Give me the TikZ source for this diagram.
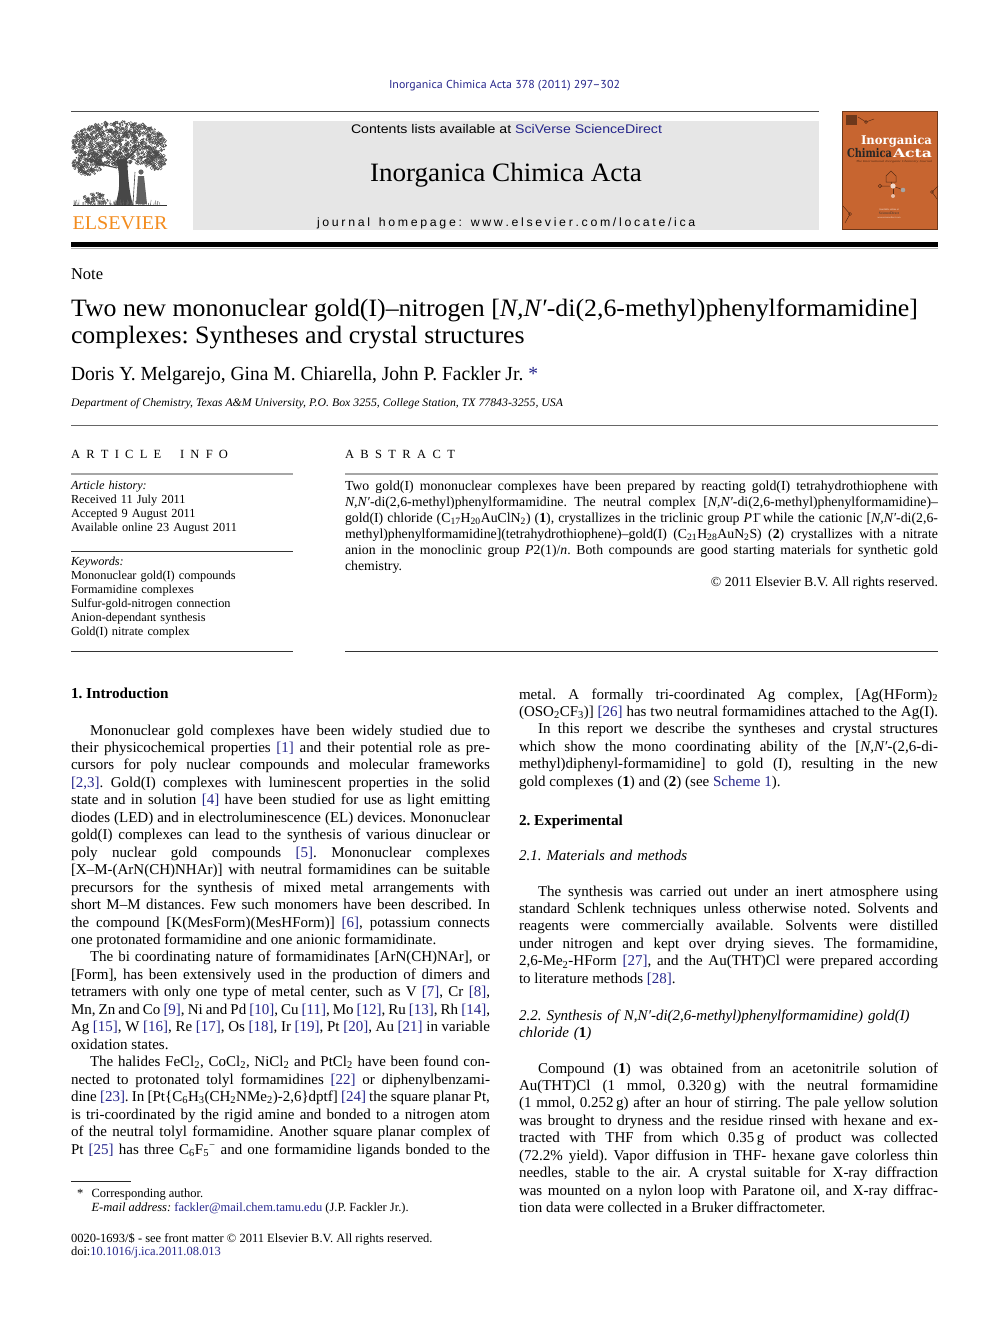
\documentclass[tikz,border=0pt]{standalone}
\usepackage{fontspec}
\setmainfont{Liberation Serif}
\newfontfamily\hsans{Liberation Sans}
\newfontfamily\psans{PT Sans}
\newfontfamily\slab{DejaVu Serif}
\usepackage{graphicx}
\definecolor{linkblue}{RGB}{38,38,140}
\definecolor{elsorange}{RGB}{243,140,30}
\definecolor{coverbg}{RGB}{199,101,48}
\definecolor{boxgray}{RGB}{230,230,230}
\newcommand\lk[1]{\textcolor{linkblue}{#1}}
\newcommand\NN{\textit{N,N′}}
\newcommand\sub[1]{\textsubscript{#1}}
\newcommand\nl{\linebreak[4]}
\makeatletter
\newcommand\spreadtext[2]{\def\sp@k{\kern#1}\@tfor\sp@c:=#2\do{\sp@c\sp@k}}
\makeatother
\newlength\tlen
\newcommand\titleone{Two new mononuclear gold(I)–nitrogen [\NN-di(2,6-methyl)phenylformamidine]}
\hyphenpenalty=10000\relax
\exhyphenpenalty=10000\relax
\tolerance=10000\relax
\frenchspacing
\begin{document}
\settowidth{\tlen}{\fontsize{25}{28}\selectfont\titleone}%
\pgfmathsetmacro\tscale{847/\tlen}%
\begin{tikzpicture}[x=1pt,y=-1pt,
  txt/.style={anchor=base west, inner sep=0pt, outer sep=0pt},
  txtr/.style={anchor=base east, inner sep=0pt, outer sep=0pt},
  body/.style={txt, text width=419pt, align=justify,
     font=\fontsize{15}{17.46}\selectfont\frenchspacing},
  info/.style={txt, text width=222pt, align=left, font=\fontsize{12.3}{14}\selectfont},
  abs/.style={txt, text width=593pt, align=justify,
     font=\fontsize{13.8}{16}\selectfont\frenchspacing},
  foot/.style={txt, font=\fontsize{12.5}{14}\selectfont},
  head/.style={txt, font=\fontsize{15.2}{17}\selectfont\bfseries},
  subhead/.style={txt, text width=419pt, align=left, font=\fontsize{15}{17.46}\selectfont\itshape},
  rulelight/.style={draw=black!35, line width=1.4pt},
  ruledark/.style={draw=black!80, line width=0.8pt},
  treeline/.style={draw=black!70, line width=0.38pt},
  molline/.style={draw=coverbg!45!black, line width=0.5pt},
]
\useasboundingbox (0,0) rectangle (992,1323);
\fill[white] (0,0) rectangle (992,1323);

% ---------------- header ----------------
\node[txt] (jref) at (389,88) {\resizebox{231pt}{\height}{\psans\fontsize{11.5}{12}\selectfont\color{linkblue}Inorganica Chimica Acta 378 (2011) 297–302}};
\draw[draw=black!70, line width=0.9pt] (71,111) -- (819,111);
\fill[boxgray] (193,121) rectangle (819,230);
\node[txt] (contents) at (351,133) {\resizebox{311pt}{\height}{\hsans\fontsize{12.5}{14}\selectfont Contents lists available at \lk{SciVerse ScienceDirect}}};
\node[txt] (jname) at (370,181) {\resizebox{272pt}{\height}{\fontsize{26.5}{28}\selectfont Inorganica Chimica Acta}};
\node[txt] (homepage) at (317,226) {\resizebox{381pt}{\height}{\hsans\fontsize{12}{14}\selectfont\spreadtext{2.6pt}{journal~homepage:~www.elsevier.com/locate/ica}}};

% Elsevier tree logo
\pgfmathsetseed{12345}
\foreach \i in {1,...,950}{
  \pgfmathsetmacro\ang{360*rnd}
  \pgfmathsetmacro\rr{sqrt(rnd)}
  \pgfmathsetmacro\px{119+47*\rr*cos(\ang)}
  \pgfmathsetmacro\py{144+23*\rr*sin(\ang)}
  \pgfmathsetmacro\cr{0.5+1.3*rnd}
  \draw[treeline] (\px,\py) circle[radius=\cr];
}
\foreach \i in {1,...,170}{
  \pgfmathsetmacro\ang{360*rnd}
  \pgfmathsetmacro\rr{sqrt(rnd)}
  \pgfmathsetmacro\px{88+15*\rr*cos(\ang)}
  \pgfmathsetmacro\py{164+11*\rr*sin(\ang)}
  \pgfmathsetmacro\cr{0.5+1.2*rnd}
  \draw[treeline] (\px,\py) circle[radius=\cr];
}
\foreach \i in {1,...,90}{
  \pgfmathsetmacro\ang{360*rnd}
  \pgfmathsetmacro\rr{sqrt(rnd)}
  \pgfmathsetmacro\px{155+11*\rr*cos(\ang)}
  \pgfmathsetmacro\py{161+9*\rr*sin(\ang)}
  \pgfmathsetmacro\cr{0.5+1.2*rnd}
  \draw[treeline] (\px,\py) circle[radius=\cr];
}
\foreach \i in {1,...,70}{
  \pgfmathsetmacro\ang{360*rnd}
  \pgfmathsetmacro\rr{sqrt(rnd)}
  \pgfmathsetmacro\px{96+13*\rr*cos(\ang)}
  \pgfmathsetmacro\py{199+6*\rr*sin(\ang)}
  \pgfmathsetmacro\cr{0.4+1*rnd}
  \draw[treeline] (\px,\py) circle[radius=\cr];
}
\fill[black!72] (115,205) .. controls (120,192) and (121,176) .. (116,160) -- (127,158) .. controls (128,176) and (129,192) .. (133,205) -- cycle;
\draw[black!72, line width=1.4pt] (118,164) -- (104,150);
\draw[black!72, line width=1.4pt] (124,162) -- (138,148);
\draw[black!72, line width=1.1pt] (117,168) -- (96,163);
\fill[black!62] (136,204) -- (138,176) -- (144,176) -- (147,204) -- cycle;
\fill[black!62] (141,172) circle[radius=2.6];
\draw[black!70, line width=0.6pt] (133,204) -- (135,172);
\foreach \i in {1,...,70}{
  \pgfmathsetmacro\gx{74+90*rnd}
  \pgfmathsetmacro\gh{1.5+4*rnd}
  \pgfmathsetmacro\gd{2*rnd-1}
  \draw[black!60, line width=0.4pt] (\gx,205) -- ++(\gd,-\gh);
}
\draw[black!80, line width=1.3pt] (73,205.5) -- (167,205.5);
\node[txt] (elsevier) at (72.5,229) {\resizebox{95pt}{\height}{\fontsize{19.5}{20}\selectfont\color{elsorange}ELSEVIER}};

% Journal cover
\fill[coverbg] (842,111) rectangle (938,230);
\draw[coverbg!55!black, line width=0.8pt] (842.4,111.4) rectangle (937.6,229.6);
\fill[coverbg!55!black] (846,115) rectangle (857,125);
\node[txt] (cov1) at (861,144) {\resizebox{71pt}{\height}{\slab\bfseries\fontsize{12}{12}\selectfont\color{white}Inorganica}};
\node[txt] (cov2) at (847,157) {\resizebox{45pt}{\height}{\slab\bfseries\fontsize{12}{12}\selectfont\color{black!85}Chimica}};
\node[txt] (cov3) at (893,157) {\resizebox{39pt}{\height}{\slab\bfseries\fontsize{12}{12}\selectfont\color{white}Acta}};
\node[txt] (cov4) at (856,162) {\resizebox{76pt}{\height}{\fontsize{3}{3}\selectfont\itshape\color{coverbg!40!black}The International Inorganic Chemistry Journal}};
\draw[molline] (886,182) -- (886,176) -- (891,171) -- (896,176) -- (896,182) -- cycle;
\draw[molline] (891,182) -- (893,186) -- (880,186);
\draw[molline] (893,186) -- (903,190);
\draw[molline] (893,186) -- (893,196);
\fill[white!75!coverbg] (893,186) circle[radius=2.6];
\fill[gray!70] (903,190) circle[radius=2.3];
\fill[white!60!coverbg] (893,196) circle[radius=2];
\draw[molline] (880,186) circle[radius=1.8];
\draw[molline] (858,117) -- (866,122) -- (874,119);
\draw[molline] (866,122) circle[radius=1.5];
\draw[molline] (938,186) -- (932,192) -- (937,199);
\draw[molline] (932,192) circle[radius=1.6];
\draw[molline] (843,206) -- (850,214) -- (845,223);
\draw[molline] (850,214) circle[radius=1.6];
\node[anchor=base, inner sep=0pt] (cov5) at (889,210) {\fontsize{2.6}{3}\selectfont\color{white!85!coverbg}Available online at};
\node[anchor=base, inner sep=0pt] (cov6) at (889,214.5) {\fontsize{3.6}{4}\selectfont\color{black!80}ScienceDirect};
\node[anchor=base, inner sep=0pt] (cov7) at (889,218) {\fontsize{2.4}{3}\selectfont\color{white!85!coverbg}www.sciencedirect.com};

\fill[black] (71,242) rectangle (938,247);
\draw[black!30, line width=0.8pt] (71,248) -- (938,248);

% ---------------- title block ----------------
\node[txt] (note) at (71,279) {\fontsize{16.5}{18}\selectfont Note};
\node[txt] (title1) at (71,316) {\scalebox{\tscale}[1]{\fontsize{25}{28}\selectfont\titleone}};
\node[txt] (title2) at (71,343) {\scalebox{\tscale}[1]{\fontsize{25}{28}\selectfont complexes: Syntheses and crystal structures}};
\node[txt] (authors) at (71,380.5) {\resizebox{467pt}{\height}{\fontsize{20}{22}\selectfont Doris Y. Melgarejo, Gina M. Chiarella, John P. Fackler Jr. \lk{*}}};
\node[txt] (affil) at (71,406.5) {\resizebox{492pt}{\height}{\fontsize{11.5}{13}\selectfont\itshape Department of Chemistry, Texas A\&M University, P.O. Box 3255, College Station, TX 77843-3255, USA}};
\draw[ruledark, draw=black!60] (71,425) -- (938,425);

% ---------------- article info ----------------
\node[txt] (ainfo) at (71,458) {\fontsize{12.5}{14}\selectfont\hbox to 157pt{A\hfill R\hfill T\hfill I\hfill C\hfill L\hfill E\hfill\hfill\hfill I\hfill N\hfill F\hfill O}};
\draw[rulelight] (71,474) -- (293,474);
\node[info] (history) at (71,489.5) {\textit{Article history:}\\Received 11 July 2011\\Accepted 9 August 2011\\Available online 23 August 2011};
\draw[ruledark] (71,551) -- (293,551);
\node[info] (keywords) at (71,565.5) {\textit{Keywords:}\\Mononuclear gold(I) compounds\\Formamidine complexes\\Sulfur-gold-nitrogen connection\\Anion-dependant synthesis\\Gold(I) nitrate complex};
\draw[ruledark] (71,651) -- (293,651);

% ---------------- abstract ----------------
\node[txt] (abshead) at (345,458) {\fontsize{12.5}{14}\selectfont\hbox to 110pt{A\hfill B\hfill S\hfill T\hfill R\hfill A\hfill C\hfill T}};
\draw[rulelight] (345,474) -- (938,474);
\node[abs] (abstract) at (345,490) {Two gold(I) mononuclear complexes have been prepared by reacting gold(I) tetrahydrothiophene with\nl
\NN-di(2,6-methyl)phenylformamidine. The neutral complex [\NN-di(2,6-methyl)phenylformamidine)–\nl
gold(I) chloride (C\sub{17}H\sub{20}AuClN\sub{2}) (\textbf{1}), crystallizes in the triclinic group \textit{P}\={1} while the cationic [\NN-di(2,6-\nl
methyl)phenylformamidine](tetrahydrothiophene)–gold(I) (C\sub{21}H\sub{28}AuN\sub{2}S) (\textbf{2}) crystallizes with a nitrate\nl
anion in the monoclinic group \textit{P}2(1)/\textit{n}. Both compounds are good starting materials for synthetic gold\nl
chemistry.};
\node[txtr] (copyr) at (938,586) {\fontsize{13.8}{16}\selectfont © 2011 Elsevier B.V. All rights reserved.};
\draw[ruledark] (345,651) -- (938,651);

% ---------------- left column ----------------
\node[head] (intro) at (71,698.5) {1. Introduction};
\node[body] (leftcol) at (71,735) {\hspace*{19pt}Mononuclear gold complexes have been widely studied due to\nl
their physicochemical properties \lk{[1]} and their potential role as pre-\nl
cursors for poly nuclear compounds and molecular frameworks\nl
\lk{[2,3]}. Gold(I) complexes with luminescent properties in the solid\nl
state and in solution \lk{[4]} have been studied for use as light emitting\nl
diodes (LED) and in electroluminescence (EL) devices. Mononuclear\nl
gold(I) complexes can lead to the synthesis of various dinuclear or\nl
poly nuclear gold compounds \lk{[5]}. Mononuclear complexes\nl
[X–M-(ArN(CH)NHAr)] with neutral formamidines can be suitable\nl
precursors for the synthesis of mixed metal arrangements with\nl
short M–M distances. Few such monomers have been described. In\nl
the compound [K(MesForm)(MesHForm)] \lk{[6]}, potassium connects\nl
one protonated formamidine and one anionic formamidinate.\par
\hspace*{19pt}The bi coordinating nature of formamidinates [ArN(CH)NAr], or\nl
[Form], has been extensively used in the production of dimers and\nl
tetramers with only one type of metal center, such as V \lk{[7]}, Cr \lk{[8]},\nl
Mn, Zn and Co \lk{[9]}, Ni and Pd \lk{[10]}, Cu \lk{[11]}, Mo \lk{[12]}, Ru \lk{[13]}, Rh \lk{[14]},\nl
Ag \lk{[15]}, W \lk{[16]}, Re \lk{[17]}, Os \lk{[18]}, Ir \lk{[19]}, Pt \lk{[20]}, Au \lk{[21]} in variable\nl
oxidation states.\par
\hspace*{19pt}The halides FeCl\sub{2}, CoCl\sub{2}, NiCl\sub{2} and PtCl\sub{2} have been found con-\nl
nected to protonated tolyl formamidines \lk{[22]} or diphenylbenzami-\nl
dine \lk{[23]}. In [Pt\{C\sub{6}H\sub{3}(CH\sub{2}NMe\sub{2})-2,6\}dptf] \lk{[24]} the square planar Pt,\nl
is tri-coordinated by the rigid amine and bonded to a nitrogen atom\nl
of the neutral tolyl formamidine. Another square planar complex of\nl
Pt \lk{[25]} has three C\sub{6}F\sub{5}\textsuperscript{−} and one formamidine ligands bonded to the{\parfillskip=0pt\par}};

% footnotes
\draw[black!85, line width=0.6pt] (71,1181.5) -- (131,1181.5);
\node[foot] (star) at (77,1197) {*};
\node[foot] (corr) at (91.5,1197) {Corresponding author.};
\node[foot] (email) at (91.5,1211.5) {\textit{E-mail address:} \lk{fackler@mail.chem.tamu.edu} (J.P. Fackler Jr.).};
\node[foot] (front) at (71,1242) {0020-1693/\$ - see front matter © 2011 Elsevier B.V. All rights reserved.};
\node[foot] (doi) at (71,1255.5) {doi:\lk{10.1016/j.ica.2011.08.013}};

% ---------------- right column ----------------
\node[body] (rightcol) at (519,699) {metal. A formally tri-coordinated Ag complex, [Ag(HForm)\sub{2}\nl
(OSO\sub{2}CF\sub{3})] \lk{[26]} has two neutral formamidines attached to the Ag(I).{\parfillskip=0pt\par}
\hspace*{19pt}In this report we describe the syntheses and crystal structures\nl
which show the mono coordinating ability of the [\NN-(2,6-di-\nl
methyl)diphenyl-formamidine] to gold (I), resulting in the new\nl
gold complexes (\textbf{1}) and (\textbf{2}) (see \lk{Scheme 1}).};
\node[head] (exper) at (519,825.5) {2. Experimental};
\node[subhead] (sub21) at (519,860) {2.1. Materials and methods};
\node[body] (para21) at (519,896) {\hspace*{19pt}The synthesis was carried out under an inert atmosphere using\nl
standard Schlenk techniques unless otherwise noted. Solvents and\nl
reagents were commercially available. Solvents were distilled\nl
under nitrogen and kept over drying sieves. The formamidine,\nl
2,6-Me\sub{2}-HForm \lk{[27]}, and the Au(THT)Cl were prepared according\nl
to literature methods \lk{[28]}.};
\node[subhead] (sub22) at (519,1020) {2.2. Synthesis of N,N′-di(2,6-methyl)phenylformamidine) gold(I)\\chloride (\textbf{\upshape 1})};
\node[body] (para22) at (519,1073) {\hspace*{19pt}Compound (\textbf{1}) was obtained from an acetonitrile solution of\nl
Au(THT)Cl (1 mmol, 0.320\,g) with the neutral formamidine\nl
(1 mmol, 0.252\,g) after an hour of stirring. The pale yellow solution\nl
was brought to dryness and the residue rinsed with hexane and ex-\nl
tracted with THF from which 0.35\,g of product was collected\nl
(72.2\% yield). Vapor diffusion in THF- hexane gave colorless thin\nl
needles, stable to the air. A crystal suitable for X-ray diffraction\nl
was mounted on a nylon loop with Paratone oil, and X-ray diffrac-\nl
tion data were collected in a Bruker diffractometer.};
\end{tikzpicture}
\end{document}
